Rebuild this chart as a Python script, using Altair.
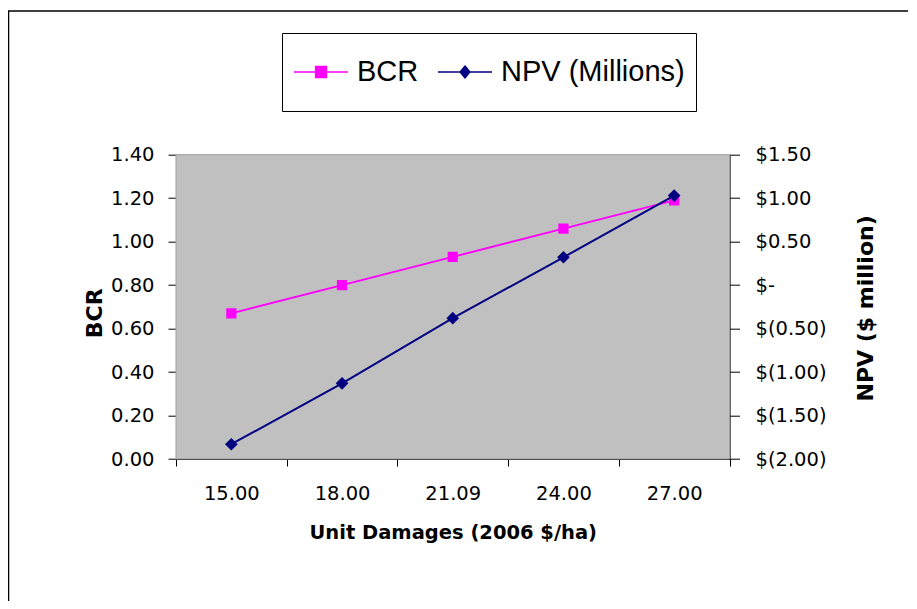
import altair as alt
import pandas as pd

# ---- data ----
x_labels = ["15.00", "18.00", "21.09", "24.00", "27.00"]
bcr_values = [0.67, 0.80, 0.93, 1.06, 1.19]
npv_values = [-1.83, -1.13, -0.38, 0.32, 1.03]
series_names = ["BCR", "NPV (Millions)"]
series_colors = ["#FF00FF", "#000080"]
bcr_ticks = [0.0, 0.2, 0.4, 0.6, 0.8, 1.0, 1.2, 1.4]
npv_ticks = [-2.0, -1.5, -1.0, -0.5, 0.0, 0.5, 1.0, 1.5]

df = pd.DataFrame({"x": x_labels, "BCR": bcr_values, "NPV": npv_values})
legend_df = pd.DataFrame({"series": series_names})

W, H = 553.5, 304.3
TICK_FONT = "DejaVu Sans"

x_enc = alt.X(
    "x:N",
    sort=x_labels,
    scale=alt.Scale(type="band", paddingInner=0, paddingOuter=0),
    axis=alt.Axis(
        title="Unit Damages (2006 $/ha)",
        labelAngle=0,
        tickBand="extent",
        tickSize=7,
        labelPadding=18.5,
        labelFont=TICK_FONT,
        labelFontSize=19.5,
        titleFont="DejaVu Sans",
        titleFontSize=19.5,
        titleFontWeight="bold",
        titleX=W / 2,
        titleY=73.5,
        titleBaseline="middle",
        titleAlign="center",
    ),
)

left_axis = alt.Axis(
    orient="left",
    values=bcr_ticks,
    format=".2f",
    tickSize=8,
    labelPadding=14,
    labelFont=TICK_FONT,
    labelFontSize=19.5,
    title="BCR",
    titleFont="DejaVu Sans",
    titleFontSize=22,
    titleFontWeight="bold",
    titleAngle=270,
    titleX=-82,
    titleY=H / 2 + 6,
    titleBaseline="middle",
    titleAlign="center",
)

right_axis = alt.Axis(
    orient="right",
    values=npv_ticks,
    labelExpr="datum.value == 0 ? '$-' : (datum.value < 0 ? '$(' + format(-datum.value, '.2f') + ')' : '$' + format(datum.value, '.2f'))",
    tickSize=10,
    labelPadding=15.5,
    labelFont=TICK_FONT,
    labelFontSize=19.5,
    title="NPV ($ million)",
    titleFont="DejaVu Sans",
    titleFontSize=22,
    titleFontWeight="bold",
    titleAngle=270,
    titleX=135.5,
    titleY=H / 2 + 1,
    titleBaseline="middle",
    titleAlign="center",
)

# plot-area background (grey panel)
panel_layer = alt.Chart(alt.Data(values=[{"k": 1}])).mark_rect(
    color="#C0C0C0", stroke="#a0a0a0", strokeWidth=1
).encode(x=alt.value(0), x2=alt.value(W), y=alt.value(0), y2=alt.value(H))

bcr_base = alt.Chart(df).encode(
    x=x_enc,
    y=alt.Y("BCR:Q", scale=alt.Scale(domain=[0, 1.4], nice=False, zero=False), axis=left_axis),
)
bcr_chart = alt.layer(
    bcr_base.mark_line(color=series_colors[0], strokeWidth=2),
    bcr_base.mark_point(shape="square", filled=True, size=105, color=series_colors[0], opacity=1),
)

npv_base = alt.Chart(df).encode(
    x=x_enc,
    y=alt.Y("NPV:Q", scale=alt.Scale(domain=[-2, 1.5], nice=False, zero=False), axis=right_axis),
)
npv_chart = alt.layer(
    npv_base.mark_line(color=series_colors[1], strokeWidth=2),
    npv_base.mark_point(shape="diamond", filled=True, size=160, color=series_colors[1], opacity=1),
)

legend_paths = [
    "M-1,0H1M-0.2,-0.2H0.2V0.2H-0.2Z",
    "M-1,0H1M0,-0.22L0.18,0L0,0.22L-0.18,0Z",
]
leg = alt.Legend(
    title=None,
    orient="none",
    legendX=106,
    legendY=-121.7,
    direction="horizontal",
    fillColor="white",
    strokeColor="black",
    padding=11,
    symbolSize=2916,
    symbolStrokeWidth=1.5,
    labelFont="Liberation Sans",
    labelFontSize=29,
    labelColor="black",
    labelOffset=8,
    labelLimit=500,
    columnPadding=18,
    clipHeight=56,
)
legend_layer = (
    alt.Chart(legend_df)
    .transform_filter("false")
    .mark_point(filled=True, opacity=1)
    .encode(
        fill=alt.Fill("series:N", scale=alt.Scale(domain=series_names, range=series_colors), legend=leg),
        stroke=alt.Stroke("series:N", scale=alt.Scale(domain=series_names, range=series_colors), legend=leg),
        shape=alt.Shape("series:N", scale=alt.Scale(domain=series_names, range=legend_paths), legend=leg),
    )
)

frame_layer = alt.Chart(alt.Data(values=[{"k": 1}])).mark_rect(
    fill="transparent", stroke="black", strokeWidth=1.5
).encode(
    x=alt.value(-167.5), x2=alt.value(3000), y=alt.value(-143.7), y2=alt.value(3000)
)

chart = (
    alt.layer(panel_layer, bcr_chart, npv_chart, legend_layer, frame_layer)
    .resolve_scale(y="independent")
    .properties(
        width=W,
        height=H,
        autosize=alt.AutoSizeParams(type="none"),
        padding={"left": 168, "top": 146.7, "right": 178.5, "bottom": 142},
        background="white",
    )
    .configure_view(fill="#C0C0C0", stroke="#a0a0a0")
    .configure_axis(
        grid=False,
        domainColor="black",
        tickColor="black",
        labelColor="black",
        titleColor="black",
        domainWidth=1,
        tickWidth=1,
    )
)

chart.save("out.html", embed_options={"renderer": "svg", "actions": False})
